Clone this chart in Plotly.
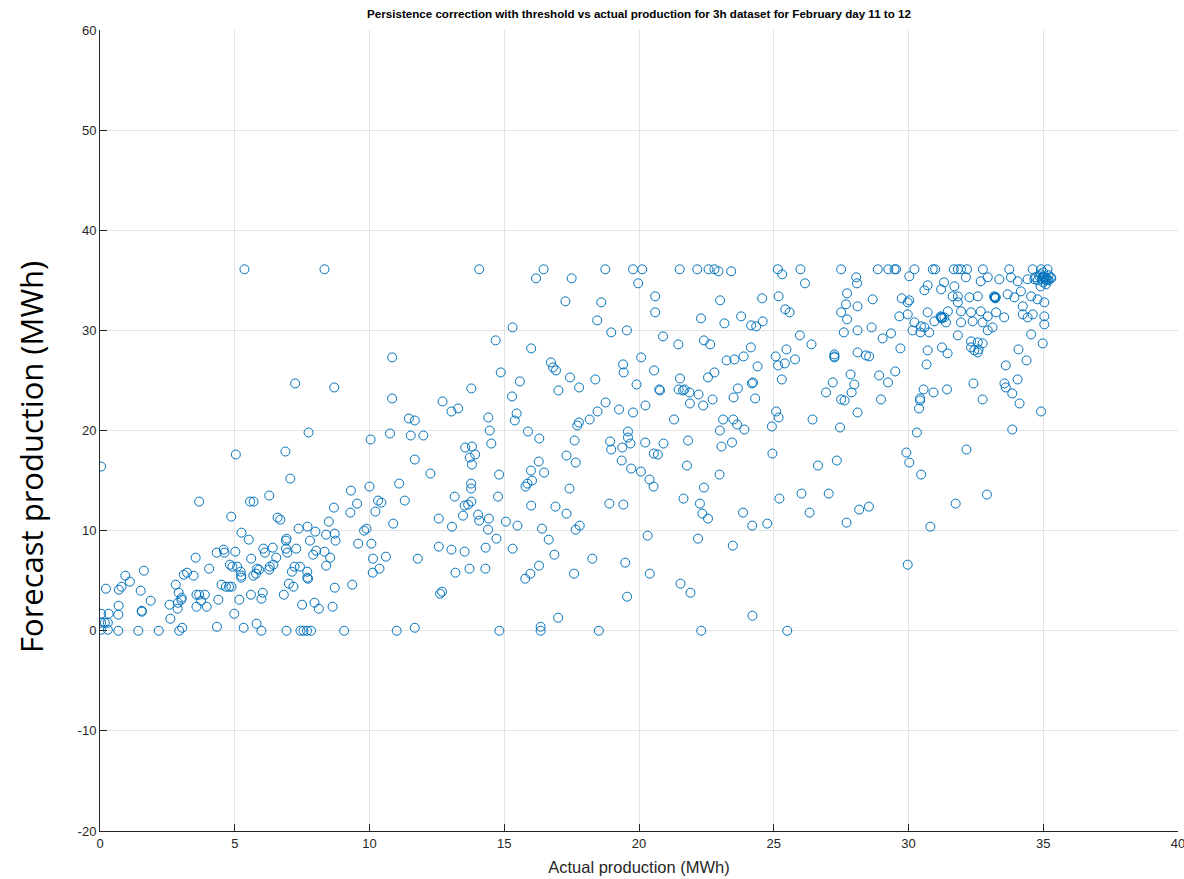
import plotly.graph_objects as go

# Actual production (MWh) and corrected persistence forecast (MWh), paired point by point
actual = [
    # low production region
    0.04, 5.04, 6.88, 7.06, 3.68, 5.57, 5.70, 6.28, 4.87, 6.59, 6.69, 8.68, 8.49, 7.37, 7.70, 7.99,
    8.39, 8.71, 8.74, 5.25, 5.52, 6.92, 6.90, 7.79, 4.59, 4.62, 4.33, 5.02, 6.06, 6.12, 6.41, 6.90,
    6.95, 7.28, 8.02, 7.91, 8.33, 8.54, 8.39, 3.55, 1.63, 0.94, 1.11, 0.80, 0.70, 0.22, 1.51, 1.88,
    0.69, 0.68, 0.04, 0.32, 0.04, 0.18, 0.29, 0.04, 0.29, 0.68, 1.42, 2.18, 2.94, 3.05, 2.61, 2.58,
    2.89, 2.88, 3.02, 3.03, 2.81, 2.92, 1.55, 1.55, 3.11, 3.23, 3.47, 3.58, 3.68, 3.58, 3.89, 3.96,
    3.75, 4.05, 4.39, 4.34, 4.98, 5.17, 5.33, 4.51, 4.67, 4.79, 4.88, 4.82, 4.91, 5.22, 5.24, 5.24,
    5.09, 5.61, 5.83, 5.90, 5.79, 5.69, 6.28, 6.30, 6.43, 6.54, 5.60, 6.04, 5.99, 5.81, 5.99, 6.82,
    7.01, 7.18, 7.12, 7.22, 7.42, 7.69, 7.69, 7.72, 7.50, 7.96, 8.12, 8.63, 8.71, 6.92, 7.44, 7.55,
    7.68, 7.83,
    # mid production, lower forecasts
    11.68, 12.26, 13.55, 13.80, 13.92, 13.72, 13.80, 14.81, 13.77, 13.77, 13.16, 13.53, 13.66, 13.78,
    13.47, 14.03, 14.07, 14.43, 14.40, 14.71, 14.77, 15.06, 15.49, 15.31, 16.28, 15.99, 16.48, 16.03,
    15.86, 15.79, 17.31, 17.65, 17.42, 16.00, 16.90, 17.31, 16.40, 16.65, 16.86, 17.65, 17.80, 16.29,
    15.97, 15.78, 17.59, 17.00, 16.35, 16.35, 14.82, 11.68, 11.01, 9.06, 12.62, 12.69, 13.06, 12.57,
    12.57, 13.04, 13.53, 14.31, 13.19, 13.71, 14.30, 11.79, 10.88, 11.10, 11.31, 10.00, 9.31, 9.54,
    9.29, 10.22, 10.32, 10.44, 9.89, 9.80, 9.58, 10.07, 10.13, 10.61, 10.37, 10.12, 9.36,
    18.97, 19.38, 23.06, 20.55, 20.70, 19.36, 19.71, 20.07, 20.39, 20.54, 21.78, 22.99, 22.41, 24.95,
    26.64, 26.03, 26.33, 25.21, 23.86, 24.20, 24.76, 21.65, 22.26, 22.35, 22.56, 18.90, 19.42, 20.32,
    22.19, 23.48, 18.27, 19.49, 20.40, 21.54, 21.91, 19.56, 24.21, 18.51, 22.31, 25.50,
    27.34, 27.04, 27.70, 28.17, 28.53, 29.92, 30.03, 30.47, 32.15, 31.75, 32.91, 30.81, 29.97,
    # upper forecasts, low and mid production
    5.36, 8.33, 7.24, 8.69, 7.74,
    14.07, 16.46, 16.18, 17.50, 17.27, 15.31, 14.68, 16.00, 16.73, 16.81, 16.92, 17.44, 17.01, 17.78,
    14.87, 15.58, 15.29, 15.46, 15.39, 10.84, 10.84, 13.78, 12.71, 13.04, 13.29, 11.46, 11.68, 10.76,
    11.53, 12.00, 10.04, 14.41, 14.46, 14.52, 15.88, 16.30, 17.61, 17.77, 17.71,
    18.75, 19.78, 20.12, 21.51, 22.16, 22.58, 22.80, 22.95, 23.42, 19.97, 25.15, 25.31, 25.99, 26.16,
    18.60, 20.60, 20.60, 23.01, 24.57, 25.18, 25.43, 25.59, 22.30, 23.17, 23.79, 24.16, 24.35, 24.59,
    18.45, 18.97, 19.55, 20.89, 21.46, 22.41, 22.64, 25.97, 26.40, 24.15, 23.88, 23.54, 23.25, 25.07,
    25.47, 25.79, 25.16, 25.41, 24.40, 25.30, 20.08, 19.41, 19.43, 20.56, 18.38, 19.91, 21.52, 22.80,
    22.56, 20.75, 20.78, 21.47, 21.63, 21.87, 22.21, 21.69, 21.89, 22.38, 22.73, 23.67, 24.19, 24.23,
    23.51, 24.31, 18.76, 18.46, 19.26, 20.24, 19.78, 18.17, 19.59, 19.59, 18.93, 19.68, 20.23, 21.30,
    21.82, 23.12, 23.50, 23.64, 23.91, 23.00, 23.45, 25.09, 25.18, 24.93, 26.44, 20.91,
    # high production region
    27.50, 28.86, 29.25, 29.48, 29.54, 30.22, 30.90, 30.99, 31.68, 31.83, 31.95, 32.17, 32.76, 33.74,
    34.61, 34.92, 35.16,
    28.06, 28.09, 30.03, 31.32, 31.70, 32.13, 32.68, 32.94, 33.37, 33.80, 34.05, 34.42, 34.67, 34.85,
    35.04, 35.16, 35.28,
    27.72, 28.67, 30.59, 30.71, 31.21, 31.64, 31.83, 32.26, 32.57, 33.19, 33.68, 33.93, 34.17, 34.55,
    34.79, 35.04, 29.75, 29.97, 30.03,
    33.20, 33.22, 33.18, 33.24, 31.21, 31.23, 31.19, 31.25,
    27.68, 28.11, 27.50, 27.72, 29.66, 29.97, 30.71, 30.96, 31.46, 31.33, 31.83, 31.95, 32.32, 32.68,
    32.94, 33.55, 34.24, 34.24, 34.42, 34.61, 35.04, 35.04, 30.22, 30.46, 30.59, 31.39, 31.95, 32.38,
    32.75, 33.25,
    27.60, 28.11, 28.63, 29.04, 29.35, 30.15, 30.44, 30.77, 31.83, 32.32, 32.57, 32.75, 32.94, 33.12,
    34.55, 34.98, 29.70,
    27.25, 27.25, 27.25, 28.11, 28.42, 28.54, 30.71, 31.24, 31.45, 32.32, 32.44, 32.57, 32.60, 34.08,
    34.38,
    30.67, 33.61, 29.51, 28.91, 29.24, 27.85, 27.99, 27.19, 26.94, 27.89, 27.50, 27.63, 28.11, 28.98,
    30.56, 30.43, 30.43, 30.39, 30.93, 31.43, 32.41, 32.75, 33.56, 33.61, 33.85, 34.05, 34.12, 34.92,
    27.46, 30.31, 33.85,
    34.90, 35.00, 35.10, 35.20, 34.80, 35.00, 35.10, 34.90, 35.20, 35.00, 34.70, 35.30, 35.10, 34.95,
    35.05,
]

forecast = [
    16.4, 17.6, 17.9, 15.2, 12.9, 12.9, 12.9, 13.5, 11.4, 11.3, 11.1, 12.3, 10.9, 10.2, 10.4, 9.9,
    9.6, 9.7, 9.0, 9.8, 9.1, 9.2, 9.0, 9.0, 8.1, 7.8, 7.8, 7.9, 8.2, 7.8, 8.3, 8.2,
    7.8, 8.2, 8.0, 7.6, 7.9, 7.3, 6.5, 7.3, 6.0, 5.5, 4.9, 4.4, 4.1, 4.2, 4.0, 3.0,
    2.5, 1.6, 1.7, 1.7, 0.8, 0.8, 0.8, 0.1, 0.1, 0.0, 0.0, 0.0, 0.0, 0.3, 1.2, 2.6,
    2.8, 2.2, 3.1, 3.3, 4.6, 3.8, 2.0, 1.9, 5.6, 5.8, 5.5, 3.6, 3.6, 2.4, 3.6, 2.4,
    3.0, 6.2, 3.1, 0.4, 1.7, 3.1, 0.3, 4.6, 4.4, 4.4, 4.4, 6.6, 6.4, 5.9, 5.5, 5.3,
    6.4, 7.2, 6.2, 6.1, 5.7, 5.5, 6.1, 6.4, 6.6, 7.3, 3.6, 3.8, 3.2, 0.7, 0.0, 3.6,
    4.7, 4.4, 5.9, 6.4, 6.4, 5.9, 5.3, 5.2, 2.6, 2.8, 2.2, 2.4, 4.3, 0.0, 0.0, 0.0,
    0.0, 0.0,
    17.1, 15.7, 18.3, 18.4, 17.6, 17.3, 16.6, 15.6, 14.7, 14.2, 13.4, 12.5, 12.6, 12.9,
    11.5, 11.6, 11.0, 11.2, 10.1, 9.2, 13.4, 10.9, 10.5, 8.2, 16.9, 16.0, 15.8, 15.0,
    14.7, 14.4, 17.5, 16.8, 14.2, 12.5, 12.4, 11.7, 10.2, 9.1, 7.6, 10.1, 10.5, 6.5,
    5.7, 5.2, 5.7, 1.3, 0.4, 0.0, 0.0, 0.3, 0.0, 0.0, 3.7, 3.9, 10.4, 11.2,
    8.4, 8.1, 7.9, 8.3, 5.8, 6.2, 6.2, 7.2, 10.7, 14.7, 13.0, 14.4, 14.0, 12.7,
    11.8, 11.9, 13.0, 12.8, 10.2, 10.0, 8.7, 8.7, 7.2, 7.4, 6.2, 5.8, 4.6,
    18.1, 18.3, 18.4, 17.7, 17.6, 17.0, 16.2, 15.9, 15.1, 14.4, 16.5, 15.6, 14.3, 17.7,
    16.5, 13.7, 11.8, 13.2, 11.8, 10.5, 10.7, 13.2, 12.7, 11.7, 11.2, 12.7, 12.6, 9.5,
    9.2, 8.5, 7.2, 6.8, 5.7, 4.7, 3.8, 3.4, 1.5, 0.0, 0.0, 0.0,
    17.0, 13.7, 10.8, 12.1, 12.4, 17.8, 16.8, 15.6, 18.1, 12.7, 13.6, 10.4, 6.6,
    36.1, 36.1, 24.7, 24.3, 19.8,
    36.1, 36.1, 35.2, 35.2, 32.9, 30.3, 29.0, 28.2, 26.8, 26.3, 26.0, 25.3, 24.0, 24.3,
    25.8, 24.9, 23.4, 21.7, 21.0, 27.3, 23.2, 24.2, 22.9, 21.9, 22.2, 21.2, 21.0, 19.7,
    19.5, 19.5, 19.1, 21.3, 20.0, 18.7, 19.9, 19.2, 19.0, 20.8, 20.5,
    36.1, 36.1, 36.1, 36.1, 36.1, 36.1, 36.1, 35.9, 35.9, 34.7, 36.1, 35.6, 36.1, 34.7,
    32.8, 33.4, 31.8, 33.0, 33.2, 33.4, 32.1, 31.8, 31.2, 30.7, 31.4, 30.5, 30.4, 30.9,
    31.0, 29.8, 30.0, 29.4, 28.6, 29.0, 28.6, 29.5, 28.6, 28.3, 27.4, 27.1, 27.0, 27.4,
    28.1, 27.1, 26.5, 26.7, 26.4, 25.1, 27.3, 26.6, 25.8, 26.0, 25.1, 24.6, 25.2, 25.8,
    25.3, 24.1, 24.0, 24.1, 24.0, 23.8, 23.6, 24.1, 22.7, 22.5, 23.1, 24.2, 24.7, 24.8,
    23.3, 23.2, 22.8, 21.9, 22.1, 22.5, 21.8, 21.1, 19.9, 19.3, 18.9, 18.7, 18.8, 21.1,
    19.0, 21.1, 21.1, 20.6, 20.1, 20.0, 18.8, 21.9, 21.3, 20.4, 21.1, 18.7,
    36.1, 36.1, 36.1, 36.1, 36.1, 36.1, 36.1, 36.1, 36.1, 36.1, 36.1, 36.1, 36.1, 36.1,
    36.1, 36.1, 36.1,
    35.3, 34.7, 35.4, 34.8, 34.4, 35.3, 34.9, 35.3, 35.1, 35.3, 34.9, 35.1, 35.1, 35.4,
    35.3, 35.1, 35.3,
    33.7, 33.1, 34.0, 34.5, 34.1, 33.4, 33.4, 33.3, 33.4, 33.3, 33.6, 33.3, 33.9, 33.4,
    33.1, 32.8, 33.2, 32.8, 33.0,
    33.3, 33.2, 33.4, 33.3, 31.3, 31.2, 31.4, 31.3,
    32.6, 32.4, 31.8, 31.1, 31.4, 31.6, 31.8, 30.9, 31.9, 31.3, 32.8, 31.9, 31.8, 31.9,
    31.4, 31.3, 32.4, 31.6, 31.3, 31.6, 31.4, 30.6, 30.8, 30.4, 30.3, 30.8, 30.8, 30.9,
    30.8, 31.8,
    29.8, 30.0, 30.3, 29.2, 29.7, 30.0, 29.8, 29.8, 29.5, 28.9, 28.8, 28.7, 30.0, 30.3,
    29.6, 28.7, 28.2,
    27.6, 27.4, 27.3, 27.8, 27.5, 27.4, 28.0, 28.3, 27.7, 28.3, 28.0, 27.8, 28.1, 28.1,
    27.0,
    26.6, 26.5, 25.9, 25.5, 24.8, 25.6, 24.6, 24.8, 23.8, 23.8, 23.1, 23.0, 21.8, 23.1,
    24.1, 23.2, 23.0, 22.2, 23.8, 24.1, 24.7, 23.1, 24.7, 24.3, 23.7, 25.1, 22.7, 21.9,
    20.3, 19.8, 20.1,
    35.6, 35.4, 35.2, 35.0, 35.0, 34.8, 34.6, 34.4, 35.5, 35.8, 35.3, 35.2, 35.0, 35.1,
    35.3,
]

x_ticks = [0, 5, 10, 15, 20, 25, 30, 35, 40]
y_ticks = [-20, -10, 0, 10, 20, 30, 40, 50, 60]

title_text = "Persistence correction with threshold vs actual production for 3h dataset for February day 11 to 12"
x_title = "Actual production (MWh)"
y_title = "Forecast production (MWh)"

axis_color = "#262626"
grid_color = "#e3e3e3"
tick_font = dict(family="Liberation Sans, Arial, sans-serif", size=13, color=axis_color)
xtitle_font = dict(family="Liberation Sans, Arial, sans-serif", size=16.5, color=axis_color)

fig = go.Figure()
fig.add_trace(go.Scatter(
    x=actual,
    y=forecast,
    mode="markers",
    marker=dict(symbol="circle-open", size=9, color="#0072BD", line=dict(width=1, color="#0072BD")),
    showlegend=False,
    hoverinfo="x+y",
))

fig.update_layout(
    width=1184,
    height=879,
    margin=dict(l=100, r=6, t=30, b=48),
    paper_bgcolor="white",
    plot_bgcolor="white",
    title=dict(
        text=f"<b>{title_text}</b>",
        x=0.5 * (100 + 1178) / 1184,
        xanchor="center",
        y=1 - 14 / 879,
        yanchor="middle",
        font=dict(family="Liberation Sans, Arial, sans-serif", size=11.6, color="black"),
    ),
    xaxis=dict(
        range=[0, 40],
        tickvals=x_ticks,
        ticktext=[str(v) for v in x_ticks],
        showgrid=True,
        gridcolor=grid_color,
        gridwidth=1,
        zeroline=False,
        showline=True,
        linecolor=axis_color,
        linewidth=1,
        ticks="inside",
        ticklen=7,
        tickcolor=axis_color,
        tickfont=tick_font,
        ticklabeloverflow="allow",
        automargin=False,
        title=dict(text=x_title, font=xtitle_font, standoff=11),
    ),
    yaxis=dict(
        range=[-20, 60],
        tickvals=y_ticks,
        ticktext=[str(v) for v in y_ticks],
        showgrid=True,
        gridcolor=grid_color,
        gridwidth=1,
        zeroline=False,
        showline=True,
        linecolor=axis_color,
        linewidth=1,
        ticks="inside",
        ticklen=7,
        tickcolor=axis_color,
        tickfont=tick_font,
        ticklabeloverflow="allow",
        automargin=False,
    ),
)

# Large rotated y-axis label on the left margin
fig.add_annotation(
    text=y_title,
    textangle=-90,
    xref="paper",
    yref="paper",
    x=(31 - 100) / 1078,
    y=(831 - 457) / 801,
    xanchor="center",
    yanchor="middle",
    showarrow=False,
    font=dict(family="Open Sans, Noto Sans, sans-serif", size=31, color="black"),
)

fig.write_html("out.html")
